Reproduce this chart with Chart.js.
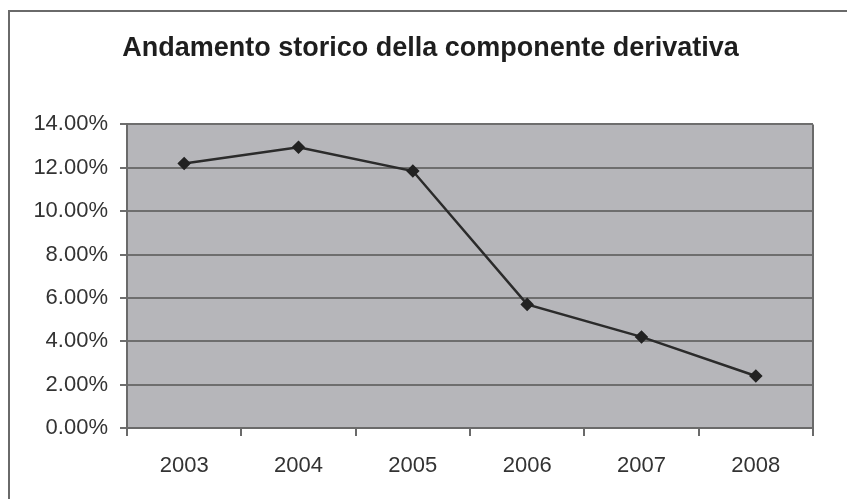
<!DOCTYPE html>
<html>
<head>
<meta charset="utf-8">
<title>Andamento storico della componente derivativa</title>
<script src="https://cdn.jsdelivr.net/npm/chart.js@4"></script>
<style>
  html, body { margin: 0; padding: 0; background: #fff; }
  #wrap { position: relative; width: 847px; height: 499px; overflow: hidden; }
  #frame { position: absolute; left: 8px; top: 10px; width: 900px; height: 600px;
           border-top: 2px solid #6a6a6a; border-left: 2px solid #6a6a6a; }
  #chart { position: absolute; left: 0; top: 0; }
</style>
</head>
<body>
<div id="wrap">
  <div id="frame"></div>
  <canvas id="chart" width="847" height="499"></canvas>
</div>
<script>
const years = ['2003', '2004', '2005', '2006', '2007', '2008']
const quota = [12.2, 12.95, 11.85, 5.7, 4.2, 2.4]   // percent
const yTicksMin = 0
const yTicksMax = 14
const yTicksStep = 2

const fontFamily = '"Liberation Sans", Arial, sans-serif'

// grey plot area with a dark right edge, as in the spreadsheet chart
const plotBackground = {
  id: 'plotBackground',
  beforeDraw(chart) {
    const { ctx, chartArea: a } = chart
    ctx.save()
    ctx.fillStyle = '#b6b6ba'
    ctx.fillRect(a.left, a.top, a.right - a.left, a.bottom - a.top)
    ctx.restore()
  },
  afterDraw(chart) {
    const { ctx, chartArea: a } = chart
    ctx.save()
    ctx.strokeStyle = '#6a6a6a'
    ctx.lineWidth = 2
    ctx.beginPath()
    ctx.moveTo(a.right, a.top)
    ctx.lineTo(a.right, a.bottom)
    ctx.stroke()
    ctx.restore()
  }
}

const ctx = document.getElementById('chart').getContext('2d')
new Chart(ctx, {
  type: 'line',
  data: {
    labels: years,
    datasets: [{
      label: 'Componente derivativa',
      data: quota,
      borderColor: '#2b2b2b',
      borderWidth: 2.5,
      pointStyle: 'rectRot',
      pointRadius: 5,
      pointBackgroundColor: '#222',
      pointBorderColor: '#222',
      tension: 0
    }]
  },
  options: {
    responsive: false,
    animation: false,
    devicePixelRatio: 1,
    layout: { padding: { left: 14, right: 0, top: 0, bottom: 0 } },
    plugins: {
      legend: { display: false },
      tooltip: { enabled: false },
      title: {
        display: true,
        text: 'Andamento storico della componente derivativa',
        color: '#1e1e1e',
        font: { family: fontFamily, size: 27, weight: 'bold' },
        padding: { top: 32, bottom: 60 }
      }
    },
    scales: {
      x: {
        offset: true,
        afterFit(scale) { scale.height = 71 },
        grid: {
          offset: true,
          drawOnChartArea: false,
          drawTicks: true,
          tickLength: 8,
          color: '#6a6a6a',
          lineWidth: 2
        },
        border: { color: '#6a6a6a', width: 2 },
        ticks: {
          color: '#333',
          padding: 17,
          font: { family: fontFamily, size: 22 }
        }
      },
      y: {
        min: yTicksMin,
        max: yTicksMax,
        afterFit(scale) { scale.width = 113 },
        grid: {
          color: '#6e6e6e',
          lineWidth: 2,
          tickLength: 7
        },
        border: { color: '#6a6a6a', width: 2 },
        ticks: {
          stepSize: yTicksStep,
          color: '#333',
          padding: 12,
          font: { family: fontFamily, size: 22 },
          callback: v => v.toFixed(2) + '%'
        }
      },
      // empty right-hand axis: only keeps the white margin right of the plot
      yRight: {
        position: 'right',
        min: yTicksMin,
        max: yTicksMax,
        afterFit(scale) { scale.width = 34 },
        grid: { drawOnChartArea: false, drawTicks: false },
        border: { display: false },
        ticks: { display: false }
      }
    }
  },
  plugins: [plotBackground]
})
</script>
</body>
</html>
